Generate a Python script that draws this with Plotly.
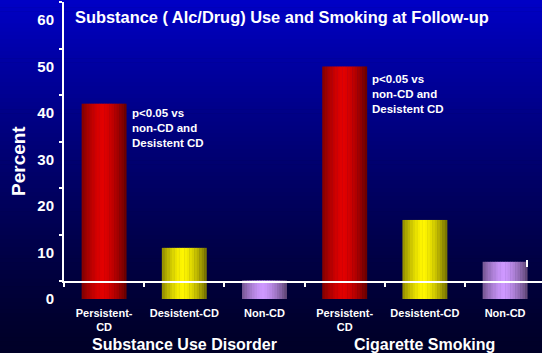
import plotly.graph_objects as go

# ---- data -------------------------------------------------------------
categories = ["Persistent-<br>CD", "Desistent-CD", "Non-CD",
              "Persistent-<br>CD", "Desistent-CD", "Non-CD"]
groups = ["Substance Use Disorder", "Cigarette Smoking"]
percent = [42, 11, 4, 50, 17, 8]
y_tick_values = [0, 10, 20, 30, 40, 50, 60]
y_tick_text = ["0", "10", "20", "30", "40", "50", "60"]
note_text = "p&lt;0.05 vs<br>non-CD and<br>Desistent CD"
note_bars = [0, 3]

# ---- styling ----------------------------------------------------------
FONT = "Arial, Liberation Sans, sans-serif"
W, H = 542, 353
ML, MB = 64, 54
BAR_W = 0.56
N_STRIPES = 18
# full-brightness colour for each bar
base_rgb = [(226, 0, 0), (255, 246, 0), (206, 152, 255)] * 2
# frame drawn slightly above the zero baseline, as on the slide
FRAME_BASE = 3.8
FRAME_TOP = 63.9
Y_MAX = 64.3

x_pos = list(range(len(categories)))


def shade(rgb, t):
    """Cylinder-like horizontal shading: dark at the edges, bright near centre."""
    d = abs((t - 0.46) / 0.54)
    k = 1.0 - 0.56 * d ** 1.5
    return "rgb({},{},{})".format(*(int(round(c * k)) for c in rgb))


fig = go.Figure()

# shaded bars: each bar built from narrow vertical stripes
stripe_w = BAR_W / N_STRIPES
for j in range(N_STRIPES):
    t = (j + 0.5) / N_STRIPES
    fig.add_trace(go.Bar(
        x=x_pos, y=percent,
        width=stripe_w * (1.0 if j == N_STRIPES - 1 else 1.2),
        offset=-BAR_W / 2 + j * stripe_w,
        marker=dict(color=[shade(c, t) for c in base_rgb], line=dict(width=0)),
        showlegend=False, hoverinfo="skip",
    ))

# empty trace that carries the white frame axes
fig.add_trace(go.Scatter(x=[], y=[], xaxis="x2", yaxis="y2", showlegend=False))

# background: vertical blue gradient
n_bands = 90
y0p, y1p = -MB / (H - MB), 1.0
x0p, x1p = -ML / (W - ML), 1.0
shapes = []
for i in range(n_bands):
    f = (i + 0.5) / n_bands  # 0 at bottom, 1 at top
    b = int(round(40 + 158 * f ** 1.3))
    ya = y0p + (y1p - y0p) * i / n_bands
    yb = y0p + (y1p - y0p) * (i + 1) / n_bands + 0.002
    shapes.append(dict(type="rect", xref="paper", yref="paper",
                       x0=x0p, x1=x1p, y0=ya, y1=yb, layer="below",
                       line=dict(width=0), fillcolor=f"rgb(0,0,{b})"))
# stray tick at the right end of the frame
shapes.append(dict(type="line", xref="paper", yref="paper",
                   x0=(527 - ML) / (W - ML), x1=(527 - ML) / (W - ML),
                   y0=(H - MB - 267) / (H - MB), y1=(H - MB - 260) / (H - MB),
                   line=dict(color="white", width=2), layer="above"))

annotations = []
# significance notes beside the tallest bars
for i in note_bars:
    annotations.append(dict(
        x=i + BAR_W / 2, y=percent[i], xref="x", yref="y",
        xanchor="left", yanchor="top", xshift=3, yshift=-1 if i == 0 else -4,
        text=note_text, showarrow=False, align="left",
        font=dict(family=FONT, size=11.5, color="white", weight="bold"),
    ))
# group captions under each trio of bars
for g, name in enumerate(groups):
    annotations.append(dict(
        x=g * 3 + 1, y=0, xref="x", yref="paper", yanchor="middle",
        yshift=-45, text=name, showarrow=False,
        font=dict(family=FONT, size=16, color="white", weight="bold"),
    ))
# y-axis caption
annotations.append(dict(
    x=-(ML - 18) / (W - ML), y=(H - MB - 161) / (H - MB),
    xref="paper", yref="paper", xanchor="center", yanchor="middle",
    text="Percent", textangle=-90, showarrow=False,
    font=dict(family=FONT, size=19, color="white", weight="bold"),
))

x_range = [-0.5, -0.5 + (W - ML) / 80.2]

fig.update_layout(
    width=W, height=H,
    margin=dict(l=ML, r=0, t=0, b=MB),
    paper_bgcolor="rgb(0,0,40)", plot_bgcolor="rgba(0,0,0,0)",
    barmode="overlay",
    title=dict(text="Substance ( Alc/Drug) Use and Smoking at Follow-up",
               x=75 / W, xanchor="left", y=1 - 17 / H, yanchor="middle",
               font=dict(family=FONT, size=16.4, color="white", weight="bold")),
    xaxis=dict(range=x_range, tickvals=x_pos, ticktext=categories,
               showgrid=False, zeroline=False, showline=False, ticks="",
               ticklabelstandoff=6,
               tickfont=dict(family=FONT, size=11, color="white", weight="bold")),
    yaxis=dict(range=[0, Y_MAX], tickvals=y_tick_values, ticktext=y_tick_text,
               showgrid=False, zeroline=False, showline=False, ticks="",
               ticklabelstandoff=9,
               tickfont=dict(family=FONT, size=15, color="white", weight="bold")),
    xaxis2=dict(domain=[0, 1], anchor="y2", range=x_range,
                tickvals=[k - 0.5 for k in range(6)], ticks="outside",
                ticklen=4, tickwidth=2, tickcolor="white",
                showticklabels=False, showgrid=False, zeroline=False,
                showline=True, linecolor="white", linewidth=2),
    yaxis2=dict(domain=[FRAME_BASE / Y_MAX, FRAME_TOP / Y_MAX], anchor="x2",
                range=[FRAME_BASE, FRAME_TOP],
                tickvals=[FRAME_BASE + 10 * k for k in range(7)], ticks="outside",
                ticklen=3, tickwidth=2, tickcolor="white",
                showticklabels=False, showgrid=False, zeroline=False,
                showline=True, linecolor="white", linewidth=2),
    shapes=shapes,
    annotations=annotations,
)

fig.write_html("out.html")
